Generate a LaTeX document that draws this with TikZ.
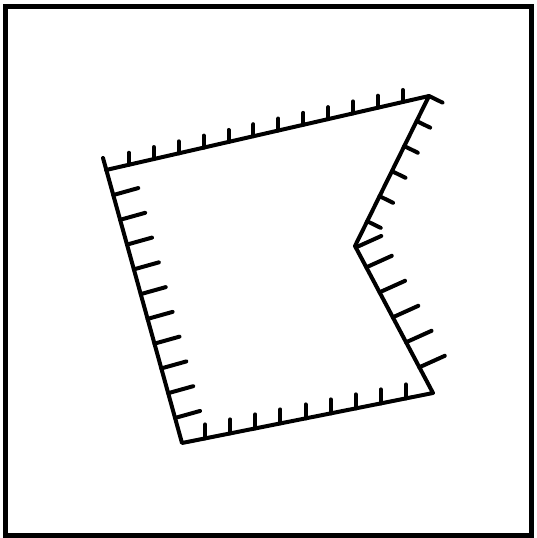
\documentclass[tikz,border=0pt]{standalone}
\usetikzlibrary{calc}
\begin{document}
\begin{tikzpicture}[x=1pt,y=-1pt,
  edge/.style={line width=4pt,line cap=round,line join=round},
  frame/.style={line width=5pt}]
\useasboundingbox (0,0) rectangle (536,538);
\draw[frame] (5,6) rectangle (531,535);
\coordinate (TLx) at (103,158);
\coordinate (TL) at (106,170);
\coordinate (BL) at (182,443);
\coordinate (BR) at (433,393);
\coordinate (N) at (355,246);
\coordinate (TR) at (429,96);
\coordinate (TRx) at (442.5,102.6);
\draw[edge] (TLx) -- (BL) -- (BR) -- (N) -- (TR) -- (TRx);
\draw[edge] (TL) -- (TR);
% top ticks
\foreach \i [evaluate=\i as \t using 0.071+0.0771*\i] in {0,...,11}
  \draw[edge] ($(TL)!\t!(TR)$) -- ++(0,-12);
% left ticks
\foreach \i [evaluate=\i as \t using 0.13+0.0869*\i] in {0,...,9}
  \draw[edge] ($(TLx)!\t!(BL)$) -- ++(25,-7);
% upper right ticks
\foreach \i [evaluate=\i as \t using 0.167*\i] in {1,...,5}
  \draw[edge] ($(TR)!\t!(N)$) -- ++(13.5,6.6);
% lower right ticks
\foreach \t in {0.01,0.145,0.315,0.485,0.655,0.825}
  \draw[edge] ($(N)!\t!(BR)$) -- ++(25.5,-11.5);
% bottom ticks
\foreach \i [evaluate=\i as \t using 0.092+0.1*\i] in {0,...,8}
  \draw[edge] ($(BL)!\t!(BR)$) -- ++(0,-14);
\end{tikzpicture}
\end{document}
